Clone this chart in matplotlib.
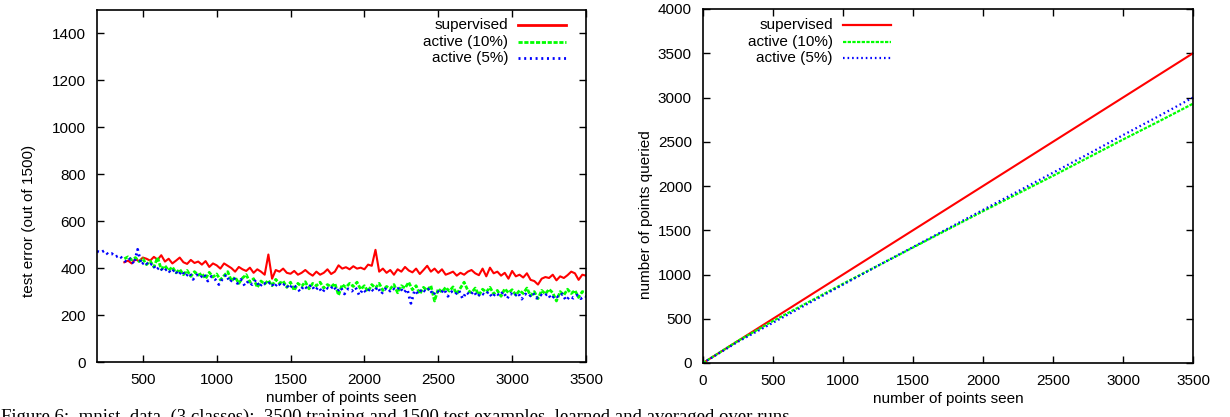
import numpy as np
import matplotlib
matplotlib.use("Agg")
import matplotlib.pyplot as plt
from matplotlib.lines import Line2D

plt.rcParams['font.family'] = ['Liberation Sans', 'DejaVu Sans']

# ---------------- data ----------------
step = 25
sup_start = 375
act10_start = 375
act5_start = 190

sup_err = [425, 432, 420, 438, 430, 445, 440, 432, 448, 436, 455, 428, 440, 420, 432, 445, 425, 418, 435, 422,
           428, 415, 430, 405, 420, 412, 398, 420, 410, 400, 385, 405, 395, 388, 402, 380, 395, 385, 372, 458,
           355, 392, 385, 398, 380, 376, 388, 372, 380, 392, 378, 368, 385, 372, 380, 395, 375, 385, 412, 398,
           404, 395, 408, 398, 402, 395, 415, 410, 478, 385, 398, 380, 392, 372, 395, 385, 405, 390, 382, 398,
           375, 392, 410, 385, 398, 380, 395, 372, 378, 385, 368, 380, 372, 385, 392, 378, 370, 398, 365, 402,
           378, 385, 368, 380, 355, 388, 365, 372, 360, 378, 350, 345, 330, 355, 362, 358, 372, 348, 365, 358,
           370, 385, 378, 350, 372, 368]

act10_err = [440, 448, 435, 445, 428, 440, 415, 430, 405, 445, 395, 410, 390, 405, 380, 395, 372, 390, 365, 385,
             370, 378, 355, 382, 362, 375, 350, 368, 385, 345, 362, 335, 358, 372, 340, 355, 318, 345, 332, 348,
             325, 352, 335, 345, 318, 340, 305, 335, 322, 342, 312, 335, 325, 340, 315, 330, 320, 335, 285, 330,
             318, 335, 322, 340, 310, 325, 300, 330, 315, 335, 305, 322, 312, 330, 295, 325, 315, 340, 308, 325,
             290, 318, 305, 325, 260, 312, 298, 318, 302, 320, 290, 315, 340, 305, 295, 315, 285, 310, 298, 318,
             290, 305, 280, 312, 295, 308, 285, 305, 292, 315, 282, 300, 270, 305, 290, 310, 295, 260, 300, 285,
             310, 292, 305, 275, 300, 295]

act5_err = [472, 466, 475, 458, 462, 448, 455, 438, 425, 440, 418, 480, 415, 428, 410, 420, 392, 405, 385, 398,
            378, 395, 370, 388, 365, 380, 352, 372, 360, 375, 345, 365, 352, 330, 355, 372, 340, 360, 335, 352,
            325, 345, 330, 350, 320, 340, 328, 342, 318, 338, 322, 335, 312, 330, 318, 300, 325, 312, 330, 305,
            320, 296, 318, 308, 325, 300, 318, 290, 312, 302, 318, 285, 310, 295, 315, 300, 320, 290, 312, 298,
            315, 305, 320, 295, 310, 250, 305, 290, 312, 298, 315, 285, 305, 292, 310, 280, 300, 288, 305, 270,
            298, 285, 302, 278, 295, 285, 300, 275, 295, 282, 300, 270, 292, 280, 295, 268, 290, 278, 295, 272,
            288, 280, 292, 268, 285, 275, 290, 262, 280, 272, 285, 270, 282, 276]

seen = [0, 250, 500, 750, 1000, 1250, 1500, 1750, 2000, 2250, 2500, 2750, 3000, 3250, 3500]
sup_q = [0, 250, 500, 750, 1000, 1250, 1500, 1750, 2000, 2250, 2500, 2750, 3000, 3250, 3500]
act10_q = [0, 250, 475, 685, 895, 1100, 1305, 1510, 1715, 1915, 2115, 2320, 2525, 2725, 2930]
act5_q = [0, 240, 455, 670, 885, 1100, 1310, 1520, 1730, 1940, 2150, 2360, 2575, 2785, 3000]

labels = ["supervised", "active (10%)", "active (5%)"]
colors = ["#ff0000", "#00ff00", "#0000ff"]

x_sup = sup_start + step * np.arange(len(sup_err))
x_a10 = act10_start + step * np.arange(len(act10_err))
x_a5 = act5_start + step * np.arange(len(act5_err))

# ---------------- figure ----------------
W, H = 1230, 417
fig = plt.figure(figsize=(W / 100, H / 100), dpi=100)

def px_axes(x0, y0, x1, y1):
    return fig.add_axes([x0 / W, 1 - y1 / H, (x1 - x0) / W, (y1 - y0) / H])

ax1 = px_axes(97, 10, 586, 362)
ax2 = px_axes(703, 9, 1193, 363)

FS = 11
styles = [dict(ls='-'), dict(ls=(0, (1.5, 0.6))), dict(ls=(0, (0.72, 1.33)))]

def style_axes(ax):
    for s in ax.spines.values():
        s.set_linewidth(1.2)
        s.set_color('black')
    ax.tick_params(direction='in', length=5, width=1.0, top=True, right=True,
                   labelsize=FS, pad=8, colors='black')

def draw_legend(ax, tx, lx0, lx1, ys, lw):
    for lab, c, st, y in zip(labels, colors, styles, ys):
        ax.text(tx, y, lab, transform=ax.transAxes, ha='right', va='center', fontsize=FS)
        ax.add_line(Line2D([lx0, lx1], [y, y], transform=ax.transAxes, color=c, lw=lw,
                           dash_capstyle='butt', **st))

# left panel
ax1.plot(x_sup, sup_err, color=colors[0], lw=1.5, **styles[0])
ax1.plot(x_a10, act10_err, color=colors[1], lw=2.0, dash_capstyle='butt', **styles[1])
ax1.plot(x_a5, act5_err, color=colors[2], lw=2.0, dash_capstyle='butt', **styles[2])
ax1.set_xlim(190, 3500)
ax1.set_ylim(0, 1500)
ax1.set_xticks([500, 1000, 1500, 2000, 2500, 3000, 3500])
ax1.set_yticks([0, 200, 400, 600, 800, 1000, 1200, 1400])
style_axes(ax1)
ax1.set_xlabel("number of points seen", fontsize=FS, labelpad=3)
ax1.set_ylabel("test error (out of 1500)", fontsize=FS)
ax1.yaxis.set_label_coords(-0.125, 0.40)
draw_legend(ax1, 0.8405, 0.861, 0.959, [0.957, 0.910, 0.863], 2.0)

# right panel
ax2.plot(seen, sup_q, color=colors[0], lw=1.5, **styles[0])
ax2.plot(seen, act10_q, color=colors[1], lw=1.6, dash_capstyle='butt', **styles[1])
ax2.plot(seen, act5_q, color=colors[2], lw=1.6, dash_capstyle='butt', **styles[2])
ax2.set_xlim(0, 3500)
ax2.set_ylim(0, 4000)
ax2.set_xticks([0, 500, 1000, 1500, 2000, 2500, 3000, 3500])
ax2.set_yticks([0, 500, 1000, 1500, 2000, 2500, 3000, 3500, 4000])
style_axes(ax2)
ax2.set_xlabel("number of points seen", fontsize=FS, labelpad=3)
ax2.set_ylabel("number of points queried", fontsize=FS)
ax2.yaxis.set_label_coords(-0.102, 0.42)
draw_legend(ax2, 0.265, 0.2865, 0.384, [0.955, 0.908, 0.861], 1.6)

# caption (cut off at the bottom edge, as in the source)
fig.text(1 / W, 1 - 409 / H, "Figure 6:  mnist  data  (3 classes):  3500 training and 1500 test examples, learned and averaged over runs",
         family=['Liberation Serif', 'DejaVu Serif'], fontsize=13.5, va='top', ha='left')

fig.savefig("out.png", dpi=100)
